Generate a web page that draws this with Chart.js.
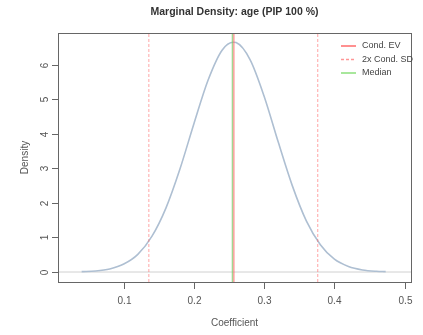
<!DOCTYPE html>
<html>
<head>
<meta charset="utf-8">
<script src="https://cdn.jsdelivr.net/npm/chart.js@4"></script>
<style>
  html, body { margin: 0; padding: 0; background: #fff; }
  #wrap { width: 423px; height: 335px; }
</style>
</head>
<body>
<div id="wrap"><canvas id="densityChart" width="423" height="335"></canvas></div>
<script>
// ── data ──
const coefX = [0.04, 0.06, 0.08, 0.10, 0.12, 0.14, 0.16, 0.18, 0.20, 0.22, 0.24, 0.256, 0.26,
  0.28, 0.30, 0.32, 0.34, 0.36, 0.38, 0.40, 0.42, 0.44, 0.46, 0.473];
const densityY = [0.01, 0.03, 0.09, 0.23, 0.51, 1.03, 1.85, 2.98, 4.30, 5.55, 6.42, 6.65, 6.64,
  6.14, 5.08, 3.76, 2.50, 1.48, 0.79, 0.37, 0.16, 0.06, 0.02, 0.01];
const condEV = 0.2568;
const median = 0.2548;
const sdBounds = [0.1357, 0.3763];
const xTicks = [0.1, 0.2, 0.3, 0.4, 0.5];
const yTicks = [0, 1, 2, 3, 4, 5, 6];
const xRange = [0.0063, 0.5091];
const yRange = [-0.289, 6.917];

const FONT = '"Liberation Sans", Arial, sans-serif';

const vline = (x) => [{ x: x, y: yRange[0] }, { x: x, y: yRange[1] }];

// R-style box, ticks, labels
const rAxes = {
  id: 'rAxes',
  afterDraw(chart) {
    const ctx = chart.ctx;
    const a = chart.chartArea;
    const sx = chart.scales.x, sy = chart.scales.y;
    ctx.save();
    ctx.strokeStyle = '#666';
    ctx.lineWidth = 1;
    ctx.strokeRect(Math.round(a.left) + 0.5, Math.round(a.top) + 0.5,
      Math.round(a.right - a.left), Math.round(a.bottom - a.top));

    ctx.fillStyle = '#555';
    ctx.font = '10px ' + FONT;
    ctx.textAlign = 'center';
    ctx.textBaseline = 'middle';
    xTicks.forEach(v => {
      const px = Math.round(sx.getPixelForValue(v)) + 0.5;
      ctx.beginPath();
      ctx.moveTo(px, a.bottom);
      ctx.lineTo(px, a.bottom + 7);
      ctx.stroke();
      ctx.fillText(v.toFixed(1), px, a.bottom + 19);
    });
    yTicks.forEach(v => {
      const py = Math.round(sy.getPixelForValue(v)) + 0.5;
      ctx.beginPath();
      ctx.moveTo(a.left, py);
      ctx.lineTo(a.left - 6, py);
      ctx.stroke();
      ctx.save();
      ctx.translate(a.left - 13, py);
      ctx.rotate(-Math.PI / 2);
      ctx.fillText(String(v), 0, 0);
      ctx.restore();
    });

    // axis titles
    ctx.fillText('Coefficient', (a.left + a.right) / 2, 323);
    ctx.save();
    ctx.translate(25, (a.top + a.bottom) / 2);
    ctx.rotate(-Math.PI / 2);
    ctx.fillText('Density', 0, 0);
    ctx.restore();

    // title
    ctx.fillStyle = '#333';
    ctx.font = 'bold 10.5px ' + FONT;
    ctx.fillText('Marginal Density: age (PIP 100 %)', (a.left + a.right) / 2, 12);

    // legend
    const items = [
      { label: 'Cond. EV', color: 'rgba(255,70,70,0.8)', dash: [] },
      { label: '2x Cond. SD', color: 'rgba(255,80,80,0.6)', dash: [3, 2] },
      { label: 'Median', color: 'rgba(110,215,90,0.8)', dash: [] },
    ];
    ctx.font = '9px ' + FONT;
    ctx.textAlign = 'left';
    items.forEach((it, i) => {
      const y = 46 + i * 13.5;
      ctx.strokeStyle = it.color;
      ctx.lineWidth = 1.5;
      ctx.setLineDash(it.dash);
      ctx.beginPath();
      ctx.moveTo(341, y);
      ctx.lineTo(356, y);
      ctx.stroke();
      ctx.setLineDash([]);
      ctx.fillStyle = '#444';
      ctx.fillText(it.label, 362, y);
    });
    ctx.restore();
  }
};

new Chart(document.getElementById('densityChart'), {
  type: 'line',
  plugins: [rAxes],
  data: {
    datasets: [
      {
        label: 'Cond. EV',
        data: vline(condEV),
        borderColor: 'rgba(255,110,110,0.65)',
        borderWidth: 1.5,
        pointRadius: 0,
      },
      {
        label: 'Median',
        data: vline(median),
        borderColor: 'rgba(120,200,100,0.7)',
        borderWidth: 1.5,
        pointRadius: 0,
      },
      {
        label: 'SD low',
        data: vline(sdBounds[0]),
        borderColor: 'rgba(255,90,90,0.55)',
        borderWidth: 1,
        borderDash: [3, 2],
        pointRadius: 0,
      },
      {
        label: 'SD high',
        data: vline(sdBounds[1]),
        borderColor: 'rgba(255,90,90,0.55)',
        borderWidth: 1,
        borderDash: [3, 2],
        pointRadius: 0,
      },
      {
        label: 'Density',
        data: coefX.map((x, i) => ({ x: x, y: densityY[i] })),
        borderColor: '#aebfd2',
        borderWidth: 1.6,
        pointRadius: 0,
        cubicInterpolationMode: 'monotone',
      },
      {
        label: 'zero',
        data: [{ x: xRange[0], y: 0 }, { x: xRange[1], y: 0 }],
        borderColor: '#d0d0d0',
        borderWidth: 1,
        pointRadius: 0,
      },
    ],
  },
  options: {
    responsive: false,
    animation: false,
    devicePixelRatio: 1,
    layout: { padding: { left: 58, right: 12, top: 33, bottom: 53 } },
    plugins: {
      legend: { display: false },
      tooltip: { enabled: false },
    },
    scales: {
      x: { type: 'linear', min: xRange[0], max: xRange[1], display: false },
      y: { type: 'linear', min: yRange[0], max: yRange[1], display: false },
    },
  },
});
</script>
</body>
</html>
